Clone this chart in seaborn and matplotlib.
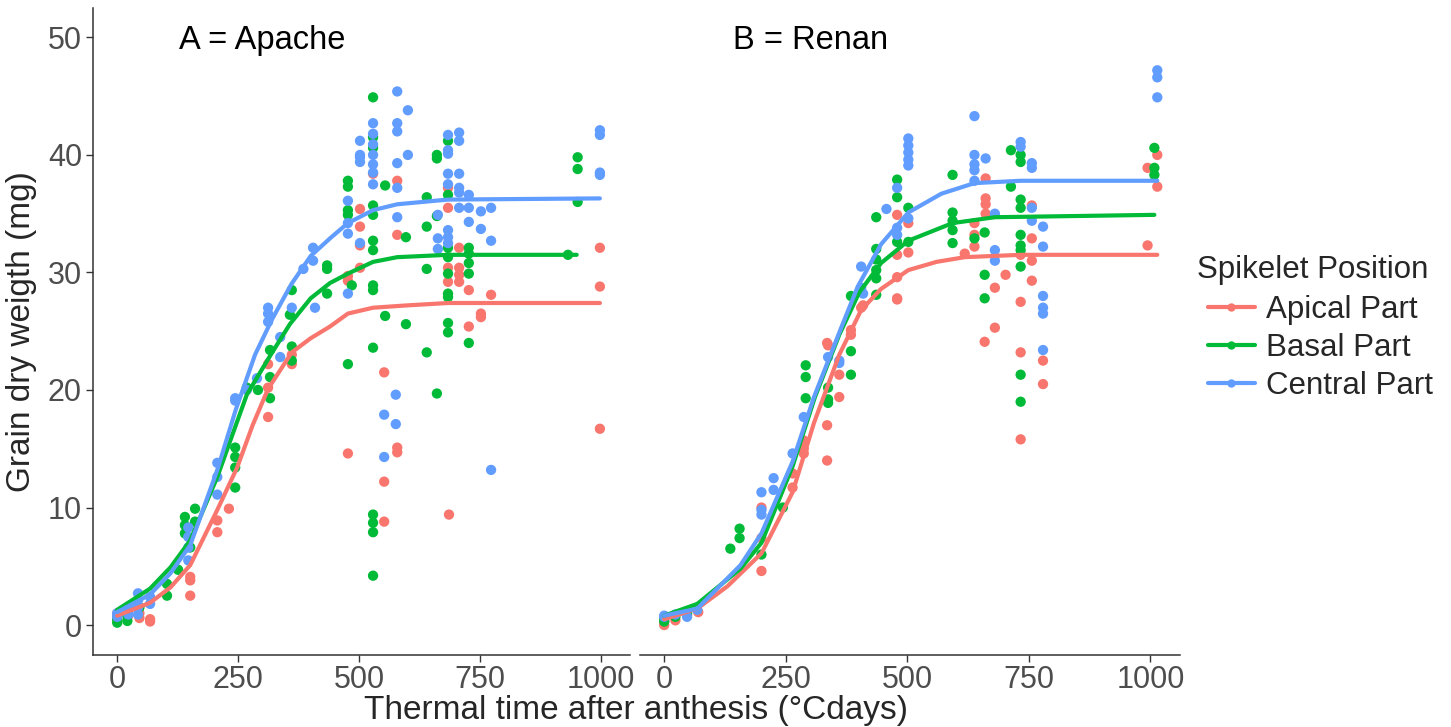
import matplotlib
matplotlib.use("Agg")
import matplotlib.pyplot as plt
from matplotlib.lines import Line2D
import seaborn as sns
import pandas as pd

# --- scatter data (thermal time in °Cdays, grain dry weight in mg) ---
apache_apical_tt = [0, 0, 0, 23, 23, 46, 46, 68, 68, 151, 151, 151, 207, 207, 231, 312, 312, 312, 361, 361,
                    477, 477, 477, 502, 502, 502, 502, 529, 552, 552, 552, 579, 579, 579, 579, 686, 684, 684,
                    684, 684, 707, 707, 707, 707, 727, 727, 752, 752, 773, 998, 998, 998]
apache_apical_wt = [0.8, 1.0, 0.5, 0.8, 1.2, 1.0, 0.6, 0.3, 0.5, 4.1, 3.8, 2.5, 8.9, 7.9, 9.9, 17.7, 20.2, 22.2, 22.2, 23.0,
                    14.6, 29.3, 29.7, 35.4, 33.9, 32.3, 30.4, 38.4, 21.5, 12.2, 8.8, 37.8, 33.2, 15.1, 14.7, 9.4, 37.2, 35.5,
                    30.4, 29.2, 32.1, 30.4, 29.8, 29.2, 28.5, 25.4, 26.5, 26.2, 28.1, 32.1, 28.8, 16.7]

apache_basal_tt = [0, 0, 21, 21, 46, 103, 103, 126, 140, 140, 140, 161, 161, 151, 244, 244, 244, 244, 268, 291,
                   316, 316, 316, 361, 361, 357, 361, 434, 434, 434, 477, 477, 477, 477, 477, 485, 529, 529, 529,
                   529, 529, 529, 529, 529, 529, 529, 529, 529, 529, 529, 554, 554, 597, 597, 640, 640, 640, 640,
                   661, 661, 661, 661, 684, 684, 684, 684, 684, 684, 684, 684, 684, 727, 727, 727, 727, 727,
                   932, 952, 952, 952]
apache_basal_wt = [0.2, 0.5, 0.35, 0.8, 1.5, 2.5, 3.5, 4.7, 9.2, 8.5, 7.8, 9.9, 8.8, 6.6, 11.7, 13.4, 15.1, 14.3, 20.2, 20.0,
                   21.1, 19.3, 23.4, 23.7, 22.5, 26.4, 28.5, 30.6, 30.3, 28.2, 37.8, 37.3, 35.3, 34.9, 22.2, 28.9, 44.9, 41.5, 40.6,
                   35.7, 34.9, 32.7, 31.9, 28.9, 28.5, 23.6, 9.4, 8.7, 7.9, 4.2, 37.4, 26.3, 33.0, 25.6, 36.4, 33.9, 30.3, 23.2,
                   40.0, 39.7, 34.8, 19.7, 41.2, 36.6, 32.1, 31.3, 29.9, 28.2, 27.9, 25.7, 24.9, 32.1, 31.6, 30.8, 29.9, 24.0,
                   31.5, 39.8, 38.8, 36.0]

apache_central_tt = [0, 0, 23, 23, 43, 43, 43, 43, 68, 68, 147, 147, 147, 147, 207, 207, 207, 244, 244, 268,
                     289, 312, 312, 312, 337, 337, 361, 385, 405, 405, 409, 477, 477, 477, 477, 502, 502, 502, 502,
                     502, 529, 529, 529, 529, 529, 529, 529, 552, 552, 579, 579, 579, 579, 579, 579, 576, 576, 601,
                     601, 663, 663, 663, 684, 684, 684, 684, 684, 684, 684, 684, 707, 707, 707, 707, 707, 707,
                     727, 727, 727, 752, 752, 773, 773, 773, 998, 998, 998, 998]
apache_central_wt = [1.0, 0.7, 1.4, 0.9, 2.7, 2.1, 1.5, 0.9, 2.4, 1.8, 6.6, 5.5, 7.5, 8.3, 13.8, 12.6, 11.1, 19.1, 19.3, 20.0,
                     21.0, 27.0, 26.5, 25.8, 24.5, 22.8, 27.0, 30.3, 32.1, 31.0, 27.0, 36.1, 34.2, 33.3, 28.2, 41.2, 39.8, 39.4, 40.0,
                     32.5, 42.7, 41.8, 40.9, 40.0, 39.2, 38.5, 37.5, 17.9, 14.3, 45.4, 42.7, 42.0, 39.3, 37.2, 34.7, 19.6, 17.1, 43.8,
                     40.0, 34.9, 32.9, 32.0, 41.7, 40.4, 40.1, 38.4, 37.5, 33.6, 33.0, 32.5, 41.9, 41.2, 38.4, 37.2, 36.8, 35.5,
                     36.6, 35.5, 34.3, 35.2, 33.7, 35.5, 32.7, 13.2, 42.1, 41.7, 38.5, 38.3]

renan_apical_tt = [0, 0, 23, 47, 70, 200, 200, 200, 264, 264, 287, 287, 287, 335, 335, 335, 337, 360, 360, 384,
                   384, 405, 409, 479, 479, 479, 479, 479, 502, 502, 618, 638, 638, 638, 661, 661, 661, 661, 680,
                   680, 659, 702, 733, 733, 733, 733, 756, 756, 756, 756, 779, 779, 994, 994, 1014, 1014]
renan_apical_wt = [0.0, 0.3, 0.4, 0.85, 1.1, 4.6, 7.4, 10.0, 11.7, 12.9, 14.6, 15.0, 15.7, 14.0, 17.0, 24.0, 23.8, 19.4, 21.3, 25.1,
                   24.7, 27.0, 27.2, 27.7, 34.9, 31.5, 29.6, 27.8, 34.2, 31.7, 31.6, 34.2, 33.2, 32.2, 38.0, 36.3, 35.8, 35.0, 28.7,
                   25.3, 24.1, 29.8, 31.5, 27.5, 23.2, 15.8, 35.7, 32.9, 31.0, 29.3, 22.5, 20.5, 32.3, 38.9, 40.0, 37.3]

renan_basal_tt = [0, 0, 23, 47, 136, 155, 155, 200, 244, 291, 291, 291, 337, 337, 337, 384, 384, 384, 436, 436,
                  436, 436, 436, 436, 479, 479, 479, 502, 502, 593, 593, 593, 593, 593, 638, 659, 659, 659, 713,
                  713, 733, 733, 733, 733, 733, 733, 733, 733, 733, 733, 1008, 1008, 1008]
renan_basal_wt = [0.3, 0.6, 0.7, 1.0, 6.5, 8.2, 7.4, 6.0, 10.0, 22.1, 21.1, 19.3, 20.2, 19.2, 18.9, 23.3, 21.3, 28.0, 28.1, 34.7,
                  32.0, 31.1, 30.2, 29.5, 37.9, 36.4, 32.6, 35.5, 32.6, 38.3, 35.1, 34.4, 33.6, 32.5, 32.9, 33.4, 29.8, 27.8, 40.4,
                  37.3, 40.0, 39.4, 36.2, 35.5, 33.2, 32.3, 31.9, 30.5, 21.3, 19.0, 40.6, 38.9, 38.3]

renan_central_tt = [0, 0, 23, 47, 68, 200, 200, 200, 225, 225, 264, 287, 337, 360, 360, 405, 405, 409, 457, 479,
                    479, 479, 502, 502, 502, 502, 502, 502, 638, 638, 638, 638, 638, 661, 680, 680, 680, 733, 733,
                    756, 756, 756, 756, 779, 779, 779, 779, 779, 779, 1014, 1014, 1014]
renan_central_wt = [0.7, 0.8, 0.9, 0.7, 1.3, 11.3, 9.8, 9.4, 12.5, 11.5, 14.6, 17.7, 22.8, 22.3, 22.5, 30.5, 28.7, 28.2, 35.4, 37.2,
                    33.8, 33.2, 41.4, 40.8, 40.2, 39.6, 39.1, 34.6, 43.3, 40.0, 39.2, 38.7, 37.8, 39.7, 35.0, 31.9, 31.0, 41.1, 40.7,
                    39.3, 38.9, 35.5, 34.4, 33.9, 32.2, 28.0, 27.0, 26.5, 23.4, 47.2, 46.6, 44.9]

# --- fitted curves ---
apache_apical_fit_tt = [0, 68, 110, 151, 207, 248, 280, 312, 361, 400, 440, 477, 529, 600, 684, 998]
apache_apical_fit_wt = [0.8, 1.9, 3.2, 5.1, 9.8, 13.4, 17.0, 20.1, 23.2, 24.4, 25.4, 26.5, 27.0, 27.2, 27.4, 27.4]
apache_basal_fit_tt = [0, 68, 110, 151, 207, 240, 268, 316, 357, 400, 440, 477, 529, 579, 684, 950]
apache_basal_fit_wt = [1.3, 3.1, 4.9, 7.2, 12.6, 16.4, 19.6, 22.9, 25.6, 27.8, 29.1, 29.9, 30.9, 31.3, 31.5, 31.5]
apache_central_fit_tt = [0, 68, 110, 151, 207, 245, 285, 320, 360, 400, 440, 477, 529, 579, 684, 998]
apache_central_fit_wt = [1.1, 2.6, 4.4, 6.8, 13.2, 18.3, 23.0, 26.0, 29.0, 31.4, 32.9, 34.2, 35.3, 35.8, 36.2, 36.3]

renan_apical_fit_tt = [0, 68, 130, 200, 264, 308, 360, 405, 446, 502, 560, 618, 733, 1014]
renan_apical_fit_wt = [0.5, 1.4, 3.3, 6.1, 11.3, 17.2, 23.0, 26.8, 28.6, 30.2, 30.9, 31.3, 31.5, 31.5]
renan_basal_fit_tt = [0, 68, 157, 200, 264, 310, 360, 401, 446, 502, 593, 680, 1008]
renan_basal_fit_wt = [0.8, 1.8, 4.8, 7.0, 13.5, 19.4, 24.7, 28.3, 30.8, 32.7, 34.2, 34.7, 34.9]
renan_central_fit_tt = [0, 68, 157, 200, 264, 308, 364, 398, 446, 502, 570, 638, 733, 1014]
renan_central_fit_wt = [0.8, 1.4, 5.1, 7.8, 13.9, 19.4, 25.3, 28.8, 32.4, 35.1, 36.7, 37.6, 37.8, 37.8]

positions = ["Apical Part", "Basal Part", "Central Part"]
colors = ["#F8766D", "#00BA38", "#619CFF"]
panel_titles = ["A = Apache", "B = Renan"]


def make_df(groups):
    frames = []
    for pos, (tt, wt) in zip(positions, groups):
        frames.append(pd.DataFrame({"tt": tt, "wt": wt, "pos": pos}))
    return pd.concat(frames, ignore_index=True)


apache_pts = make_df([(apache_apical_tt, apache_apical_wt), (apache_basal_tt, apache_basal_wt),
                      (apache_central_tt, apache_central_wt)])
renan_pts = make_df([(renan_apical_tt, renan_apical_wt), (renan_basal_tt, renan_basal_wt),
                     (renan_central_tt, renan_central_wt)])
apache_fit = make_df([(apache_apical_fit_tt, apache_apical_fit_wt), (apache_basal_fit_tt, apache_basal_fit_wt),
                      (apache_central_fit_tt, apache_central_fit_wt)])
renan_fit = make_df([(renan_apical_fit_tt, renan_apical_fit_wt), (renan_basal_fit_tt, renan_basal_fit_wt),
                     (renan_central_fit_tt, renan_central_fit_wt)])

sns.set_style("white")
plt.rcParams["font.family"] = ["Liberation Sans", "DejaVu Sans"]
palette = dict(zip(positions, colors))

fig = plt.figure(figsize=(14.51, 7.27), dpi=100)
ax1 = fig.add_axes([0.0641, 0.099, 0.370, 0.890])
ax2 = fig.add_axes([0.441, 0.099, 0.372, 0.890])

for ax, pts, fit, title in [(ax1, apache_pts, apache_fit, panel_titles[0]),
                            (ax2, renan_pts, renan_fit, panel_titles[1])]:
    sns.scatterplot(data=pts, x="tt", y="wt", hue="pos", palette=palette, s=55,
                    linewidth=0, legend=False, ax=ax, zorder=2)
    sns.lineplot(data=fit, x="tt", y="wt", hue="pos", palette=palette, linewidth=3,
                 estimator=None, legend=False, ax=ax, zorder=3)
    ax.set_xlim(-50, 1060)
    ax.set_ylim(-2.55, 52.5)
    ax.set_xticks([0, 250, 500, 750, 1000])
    ax.set_xlabel("")
    ax.set_ylabel("")
    ax.text(300, 49.7, title, ha="center", va="center", fontsize=23.5, color="black")
    ax.tick_params(axis="x", labelsize=22, labelcolor="#4D4D4D", length=5, width=1,
                   color="#333333", direction="out", bottom=True, pad=2)
    for side in ["top", "right"]:
        ax.spines[side].set_visible(False)
    ax.spines["bottom"].set_color("#333333")
    ax.spines["bottom"].set_linewidth(1.1)

ax1.set_yticks([0, 10, 20, 30, 40, 50])
ax1.tick_params(axis="y", labelsize=22, labelcolor="#4D4D4D", length=5, width=1,
                color="#333333", direction="out", left=True, pad=3)
ax1.spines["left"].set_color("#333333")
ax1.spines["left"].set_linewidth(1.1)
ax1.set_ylabel("Grain dry weigth (mg)", fontsize=24, labelpad=8)

ax2.spines["left"].set_visible(False)
ax2.set_yticks([])

fig.text(0.438, 0.002, "Thermal time after anthesis (°Cdays)", ha="center", va="bottom", fontsize=24)

fig.text(1197 / 1451, 1 - 270 / 727, "Spikelet Position", ha="left", va="center", fontsize=22.5)
handles = [Line2D([0], [0], color=c, lw=3, marker="o", markersize=5) for c in colors]
fig.legend(handles, positions, loc="center left", bbox_to_anchor=(1208 / 1451, 1 - 348 / 727),
           frameon=False, fontsize=22.5, borderpad=0, borderaxespad=0,
           handlelength=1.5, labelspacing=0.25, handletextpad=0.35)

fig.savefig("out.png", dpi=100)
